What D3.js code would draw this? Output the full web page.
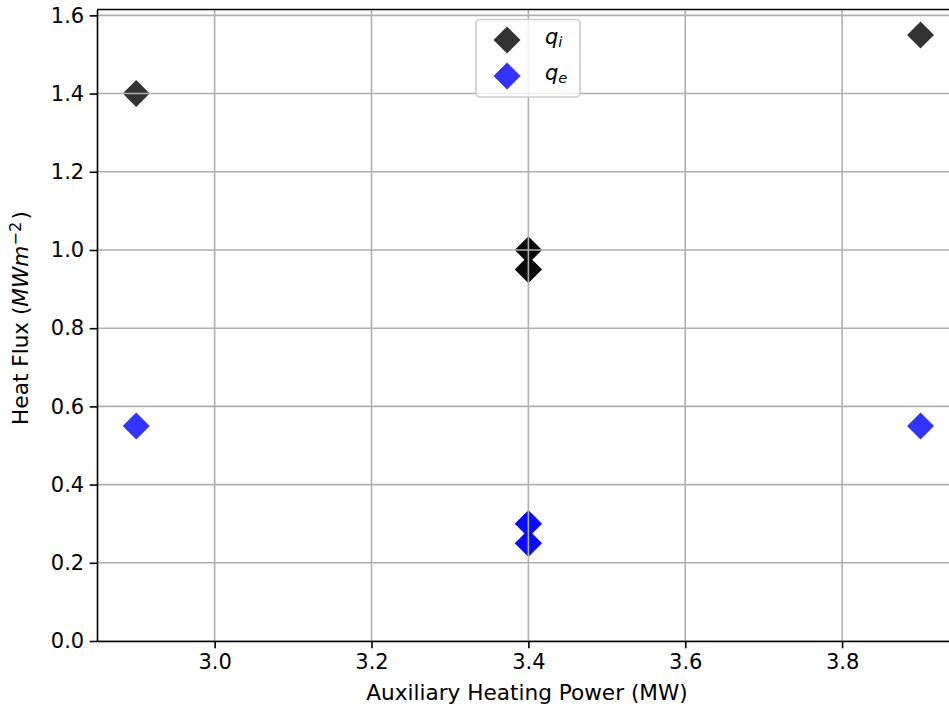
<!DOCTYPE html>
<html>
<head>
<meta charset="utf-8">
<script src="https://cdn.jsdelivr.net/npm/d3@7"></script>
<style>
  body { margin: 0; background: #fff; }
  svg { display: block; overflow: hidden; }
  text { font-family: "DejaVu Sans", sans-serif; fill: #000; }
</style>
</head>
<body>
<svg id="chart" width="949" height="711"></svg>
<script>
// values (the 3.4 MW points are drawn twice: they look fully opaque)
var power = [2.9, 3.4, 3.4, 3.4, 3.4, 3.9];
var qi = [1.4, 1.0, 0.95, 1.0, 0.95, 1.55];
var qe = [0.55, 0.30, 0.25, 0.30, 0.25, 0.55];
var xTicks = [3.0, 3.2, 3.4, 3.6, 3.8];
var yTicks = [0.0, 0.2, 0.4, 0.6, 0.8, 1.0, 1.2, 1.4, 1.6];

var svgWidth = 949, svgHeight = 711;
var margin = { top: 9.5, left: 97 };
var plotRight = 959.75, plotBottom = 641;
var fs = 21;

var svg = d3.select("#chart");
var x = d3.scaleLinear().domain([2.85, 3.95]).range([margin.left, plotRight]);
var y = d3.scaleLinear().domain([0, 1.615]).range([plotBottom, margin.top]);

// markers (scatter sits under the grid, like matplotlib's default zorder)
var diamond = d3.symbol().type(d3.symbolSquare).size(364);
function drawSeries(vals, color) {
  svg.append("g").selectAll("path").data(vals).enter().append("path")
     .attr("d", diamond)
     .attr("transform", function(d, i) { return "translate(" + x(power[i]) + "," + y(d) + ") rotate(45)"; })
     .attr("fill", color).attr("fill-opacity", 0.8);
}
drawSeries(qi, "black");
drawSeries(qe, "blue");

// grid
var grid = svg.append("g");
grid.selectAll(".gx").data(xTicks).enter().append("line")
    .attr("x1", function(d) { return x(d); }).attr("x2", function(d) { return x(d); })
    .attr("y1", margin.top).attr("y2", plotBottom)
    .attr("stroke", "#b0b0b0").attr("stroke-width", 1.6);
grid.selectAll(".gy").data(yTicks).enter().append("line")
    .attr("y1", function(d) { return y(d); }).attr("y2", function(d) { return y(d); })
    .attr("x1", margin.left).attr("x2", plotRight)
    .attr("stroke", "#b0b0b0").attr("stroke-width", 1.6);

// axes
var xAxis = svg.append("g")
    .attr("transform", "translate(0," + plotBottom + ")")
    .call(d3.axisBottom(x).tickValues(xTicks).tickFormat(d3.format(".1f")).tickSizeInner(7.3).tickSizeOuter(0).tickPadding(5.5));
var yAxis = svg.append("g")
    .attr("transform", "translate(" + margin.left + ",0)")
    .call(d3.axisLeft(y).tickValues(yTicks).tickFormat(d3.format(".1f")).tickSizeInner(7.3).tickSizeOuter(0).tickPadding(5.5));
[xAxis, yAxis].forEach(function(a) {
  a.selectAll("text").style("font-size", fs + "px").attr("fill", "#000");
  a.selectAll("line").attr("stroke", "#000").attr("stroke-width", 1.6);
  a.select(".domain").attr("stroke", "#000").attr("stroke-width", 1.6);
});
// top spine
svg.append("line").attr("x1", margin.left).attr("x2", plotRight)
   .attr("y1", margin.top).attr("y2", margin.top)
   .attr("stroke", "#000").attr("stroke-width", 1.6);

// axis labels
svg.append("text").attr("x", 527).attr("y", 700)
   .attr("text-anchor", "middle").style("font-size", "21.6px")
   .text("Auxiliary Heating Power (MW)");
var yl = svg.append("text")
   .attr("transform", "translate(28,318) rotate(-90)")
   .attr("text-anchor", "middle").style("font-size", "21.6px");
yl.append("tspan").text("Heat Flux (");
yl.append("tspan").style("font-style", "italic").text("MWm");
yl.append("tspan").attr("dy", "-0.45em").style("font-size", "0.75em").text("\u22122");
yl.append("tspan").attr("dx", "0.1em").attr("dy", "0.34em").text(")");

// legend
var legendNames = [["q", "i", "black"], ["q", "e", "blue"]];
var lg = svg.append("g");
lg.append("rect").attr("x", 476).attr("y", 19.5).attr("width", 104).attr("height", 77.5)
  .attr("rx", 4).attr("fill", "#fff").attr("fill-opacity", 0.8)
  .attr("stroke", "#cccccc").attr("stroke-width", 1.6);
legendNames.forEach(function(n, i) {
  var cy = 40 + i * 36;
  lg.append("path").attr("d", diamond)
    .attr("transform", "translate(507," + cy + ") rotate(45)")
    .attr("fill", n[2]).attr("fill-opacity", 0.8);
  var t = lg.append("text").attr("x", 545).attr("y", cy + 3.5).style("font-size", fs + "px").style("font-style", "italic");
  t.append("tspan").text(n[0]);
  t.append("tspan").attr("dy", "0.25em").style("font-size", "0.7em").text(n[1]);
});
</script>
</body>
</html>
